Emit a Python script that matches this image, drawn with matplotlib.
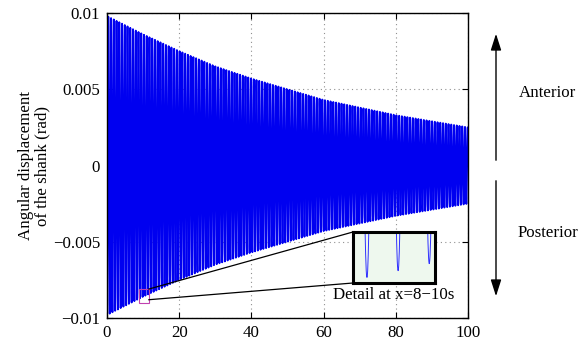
import numpy as np
import matplotlib
matplotlib.use("Agg")
import matplotlib.pyplot as plt
from matplotlib.patches import Rectangle, FancyArrowPatch

plt.rcParams['font.family'] = ['Liberation Serif', 'DejaVu Serif']

# ---- data ----
env_time = [0, 10, 20, 30, 40, 50, 60, 70, 80, 90, 100]            # s
env_amp = [0.0098, 0.0086, 0.0075, 0.0065, 0.0057, 0.0050,
           0.0043, 0.0038, 0.0033, 0.0029, 0.0025]                   # rad (peak)
period = 0.76          # s, spacing of the spikes in the detail box
first_min = 0.74       # s, time of a displacement minimum
x_ticks = [0, 20, 40, 60, 80, 100]
y_ticks = [-0.01, -0.005, 0, 0.005, 0.01]
y_ticklabels = ['\u22120.01', '\u22120.005', '0', '0.005', '0.01']
detail_range = [8, 10]
detail_ylim = [-0.00887, -0.0082]
rect_x = [9.0, 11.6]
rect_y = [-0.0090, -0.0081]

# build the oscillation from the read envelope and period
t = np.linspace(0, 100, 14000)
amp = np.interp(t, env_time, env_amp)
theta = -amp * np.cos(2 * np.pi * (t - first_min) / period)

FS = 12.2
fig = plt.figure(figsize=(5.79, 3.41), dpi=100)
ax = fig.add_axes([0.1848, 0.0674, 0.8083 - 0.1848, 0.9619 - 0.0674])
ax.plot(t, theta, color='#0000f0', lw=1.35)
ax.set_xlim(0, 100)
ax.set_ylim(-0.01, 0.01)
ax.set_xticks(x_ticks)
ax.set_yticks(y_ticks)
ax.set_yticklabels(y_ticklabels)
ax.tick_params(direction='in', top=True, right=True, labelsize=FS, length=4)
ax.tick_params(axis='x', pad=5)
ax.tick_params(axis='y', pad=5)
ax.grid(True, linestyle=(0, (1, 3)), color='#909090', lw=0.8)
for s in ax.spines.values():
    s.set_linewidth(1.0)
ax.set_ylabel('Angular displacement\nof the shank (rad)', fontsize=FS, linespacing=1.0)
ax.yaxis.set_label_coords(-0.158, 0.5)

# small rectangle marking the detail region
ax.add_patch(Rectangle((rect_x[0], rect_y[0]), rect_x[1] - rect_x[0], rect_y[1] - rect_y[0],
                       fill=False, edgecolor='#c040b0', lw=0.8, zorder=5))

# inset
axin = fig.add_axes([0.6097, 0.1701, 0.1416, 0.1496])
mask = (t >= detail_range[0]) & (t <= detail_range[1])
axin.plot(t[mask], theta[mask], color='#3030ff', lw=0.7)
axin.set_xlim(*detail_range)
axin.set_ylim(*detail_ylim)
axin.set_facecolor('#eef8ee')
axin.set_xticks([])
axin.set_yticks([])
for s in axin.spines.values():
    s.set_linewidth(2.2)

# connector lines (figure coords from rect corners to inset corners)
def to_fig(x, y):
    p = ax.transData.transform((x, y))
    return fig.transFigure.inverted().transform(p)

p1 = to_fig(rect_x[1], rect_y[1])
p2 = to_fig(rect_x[1], rect_y[0] + 0.0002)
fig.add_artist(plt.Line2D([p1[0], 0.6097], [p1[1], 0.1701 + 0.1496], color='black', lw=0.9,
                          transform=fig.transFigure))
fig.add_artist(plt.Line2D([p2[0], 0.6097], [p2[1], 0.1701], color='black', lw=0.9,
                          transform=fig.transFigure))

fig.text(394 / 579, 1 - 295 / 341, 'Detail at x=8\u221210s', fontsize=FS, ha='center', va='center')

# direction arrows
fig.add_artist(FancyArrowPatch((496 / 579, 1 - 163 / 341), (496 / 579, 1 - 31 / 341),
                               transform=fig.transFigure, arrowstyle='-|>,head_length=10,head_width=3.2',
                               color='black', lw=1.0, mutation_scale=1))
fig.add_artist(FancyArrowPatch((496 / 579, 1 - 178 / 341), (496 / 579, 1 - 299 / 341),
                               transform=fig.transFigure, arrowstyle='-|>,head_length=10,head_width=3.2',
                               color='black', lw=1.0, mutation_scale=1))
fig.text(547 / 579, 1 - 93 / 341, 'Anterior', fontsize=FS, ha='center', va='center')
fig.text(548 / 579, 1 - 233 / 341, 'Posterior', fontsize=FS, ha='center', va='center')

fig.savefig('out.png', dpi=100)
